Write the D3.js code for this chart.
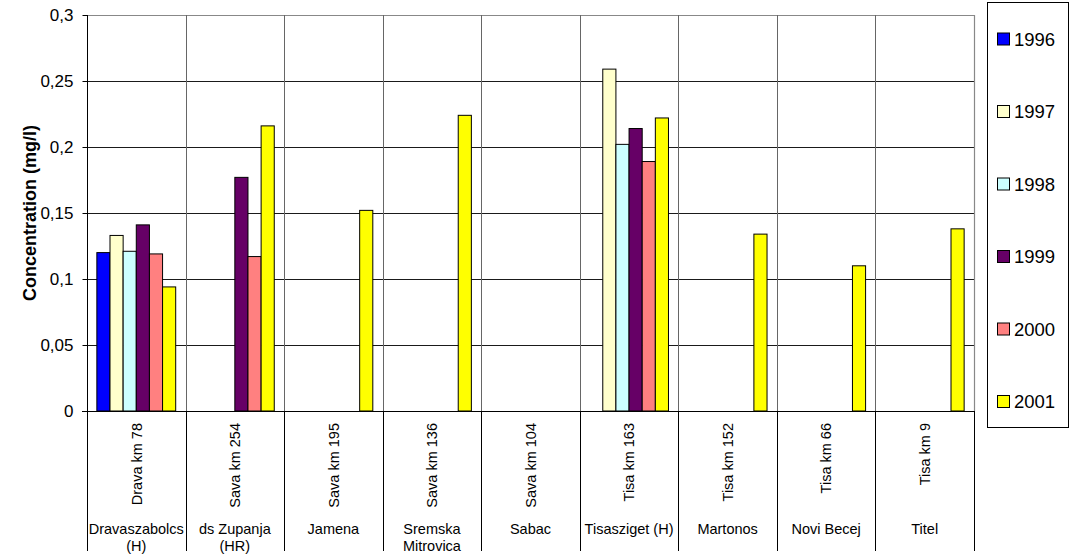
<!DOCTYPE html>
<html>
<head>
<meta charset="utf-8">
<script src="https://cdn.jsdelivr.net/npm/d3@7"></script>
<style>
  html, body { margin: 0; padding: 0; background: #fff; }
  svg { display: block; font-family: "Liberation Sans", Arial, sans-serif; }
</style>
</head>
<body>
<svg id="chart" width="1072" height="555"></svg>
<script>
// Sampling sites: river kilometre and station name (split over lines)
const sites = ["Drava km 78", "Sava km 254", "Sava km 195", "Sava km 136", "Sava km 104",
               "Tisa km 163", "Tisa km 152", "Tisa km 66", "Tisa km 9"];
const stations = [["Dravaszabolcs", "(H)"], ["ds Zupanja", "(HR)"], ["Jamena"], ["Sremska", "Mitrovica"],
                  ["Sabac"], ["Tisasziget (H)"], ["Martonos"], ["Novi Becej"], ["Titel"]];
const years = ["1996", "1997", "1998", "1999", "2000", "2001"];
const colors = ["#0000FF", "#FFFFCC", "#CCFFFF", "#660066", "#FF8080", "#FFFF00"];

// Concentration (mg/l) per year, one value per site (null = not measured)
const v1996 = [0.120, null, null, null, null, null,  null,  null,  null];
const v1997 = [0.133, null, null, null, null, 0.259, null,  null,  null];
const v1998 = [0.121, null, null, null, null, 0.202, null,  null,  null];
const v1999 = [0.141, 0.177, null, null, null, 0.214, null, null,  null];
const v2000 = [0.119, 0.117, null, null, null, 0.189, null, null,  null];
const v2001 = [0.094, 0.216, 0.152, 0.224, null, 0.222, 0.134, 0.110, 0.138];
const seriesValues = [v1996, v1997, v1998, v1999, v2000, v2001];

const yTicks = [0, 0.05, 0.1, 0.15, 0.2, 0.25, 0.3];
const yTickLabels = ["0", "0,05", "0,1", "0,15", "0,2", "0,25", "0,3"];
const yTitle = "Concentration (mg/l)";

const svg = d3.select("#chart");
const plot = { left: 87, right: 974, top: 15, bottom: 411 };
const labelBottom = 551;

const x = d3.scaleBand().domain(sites).range([plot.left, plot.right]).padding(0);
const xs = d3.scaleBand().domain(years).range([0, x.bandwidth()]).paddingInner(0).paddingOuter(0.75);
const y = d3.scaleLinear().domain([0, 0.3]).range([plot.bottom, plot.top]);

// Horizontal gridlines
svg.append("g").selectAll("line").data(yTicks.slice(1, -1)).join("line")
  .attr("x1", plot.left).attr("x2", plot.right)
  .attr("y1", d => Math.round(y(d)) + 0.5).attr("y2", d => Math.round(y(d)) + 0.5)
  .attr("stroke", "#1a1a1a").attr("stroke-width", 1);

// Plot area frame (top and right sides)
svg.append("path")
  .attr("d", `M${plot.left},${plot.top + 0.5}H${plot.right + 0.5}V${plot.bottom}`)
  .attr("fill", "none").attr("stroke", "#888").attr("stroke-width", 1.2);

// Category separators inside the plot
const bounds = sites.map(s => x(s)).slice(1);
svg.append("g").selectAll("line").data(bounds).join("line")
  .attr("x1", d => Math.round(d) + 0.5).attr("x2", d => Math.round(d) + 0.5)
  .attr("y1", plot.top).attr("y2", plot.bottom)
  .attr("stroke", "#666").attr("stroke-width", 1);

// Bars
const rows = [];
sites.forEach((s, i) => years.forEach((yr, j) => {
  const v = seriesValues[j][i];
  if (v != null) rows.push({ site: s, year: yr, value: v, color: colors[j] });
}));
svg.append("g").selectAll("rect").data(rows).join("rect")
  .attr("x", d => x(d.site) + xs(d.year))
  .attr("y", d => y(d.value))
  .attr("width", xs.bandwidth())
  .attr("height", d => y(0) - y(d.value))
  .attr("fill", d => d.color)
  .attr("stroke", "#000").attr("stroke-width", 1);

// Y axis
const yAxis = d3.axisLeft(y).tickValues(yTicks)
  .tickFormat((d, i) => yTickLabels[i]).tickSize(5).tickPadding(9);
const gy = svg.append("g").attr("transform", `translate(${plot.left + 0.5},0)`).call(yAxis);
gy.select(".domain").remove();
gy.selectAll(".tick line").attr("stroke", "#000");
gy.selectAll(".tick text").attr("font-size", 17).attr("font-family", "Liberation Sans, Arial, sans-serif")
  .attr("fill", "#000");

// Axis lines and category dividers running through the label area
svg.append("line").attr("x1", plot.left + 0.5).attr("x2", plot.left + 0.5)
  .attr("y1", plot.top).attr("y2", labelBottom).attr("stroke", "#000");
svg.append("line").attr("x1", plot.left - 5).attr("x2", plot.right + 1)
  .attr("y1", plot.bottom + 0.5).attr("y2", plot.bottom + 0.5).attr("stroke", "#000");
svg.append("g").selectAll("line").data(sites.map(s => x(s) + x.bandwidth()))
  .join("line")
  .attr("x1", d => Math.round(d) + 0.5).attr("x2", d => Math.round(d) + 0.5)
  .attr("y1", plot.bottom).attr("y2", labelBottom)
  .attr("stroke", "#000").attr("stroke-width", 1);

// Category labels: rotated site names
svg.append("g").selectAll("text").data(sites).join("text")
  .attr("transform", d => `translate(${x(d) + x.bandwidth() / 2},423) rotate(-90)`)
  .attr("text-anchor", "end").attr("dy", "0.36em")
  .attr("font-size", 14.5).attr("fill", "#000")
  .text(d => d);

// Category labels: station names
const st = svg.append("g").selectAll("text").data(sites).join("text")
  .attr("x", d => x(d) + x.bandwidth() / 2)
  .attr("y", 534)
  .attr("text-anchor", "middle").attr("font-size", 14.5).attr("fill", "#000");
st.selectAll("tspan").data((d, i) => stations[i]).join("tspan")
  .attr("x", function () { return this.parentNode.getAttribute("x"); })
  .attr("dy", (d, i) => i === 0 ? 0 : 16.5)
  .text(d => d);

// Y axis title
svg.append("text")
  .attr("transform", `translate(30,${(plot.top + plot.bottom) / 2}) rotate(-90)`)
  .attr("text-anchor", "middle").attr("dy", "0.35em")
  .attr("font-size", 18).attr("font-weight", "bold").attr("fill", "#000")
  .text(yTitle);

// Legend
const legend = svg.append("g");
legend.append("rect").attr("x", 987.5).attr("y", 2.5).attr("width", 81).attr("height", 425)
  .attr("fill", "#fff").attr("stroke", "#000").attr("stroke-width", 1);
const ly = d3.scalePoint().domain(years).range([39, 401.5]);
const items = legend.selectAll("g.item").data(years).join("g").attr("class", "item")
  .attr("transform", d => `translate(0,${ly(d)})`);
items.append("rect").attr("x", 997.5).attr("y", -6).attr("width", 12).attr("height", 12)
  .attr("fill", (d, i) => colors[i]).attr("stroke", "#000").attr("stroke-width", 1);
items.append("text").attr("x", 1014).attr("dy", "0.36em")
  .attr("font-size", 18.5).attr("fill", "#000").text(d => d);
</script>
</body>
</html>
